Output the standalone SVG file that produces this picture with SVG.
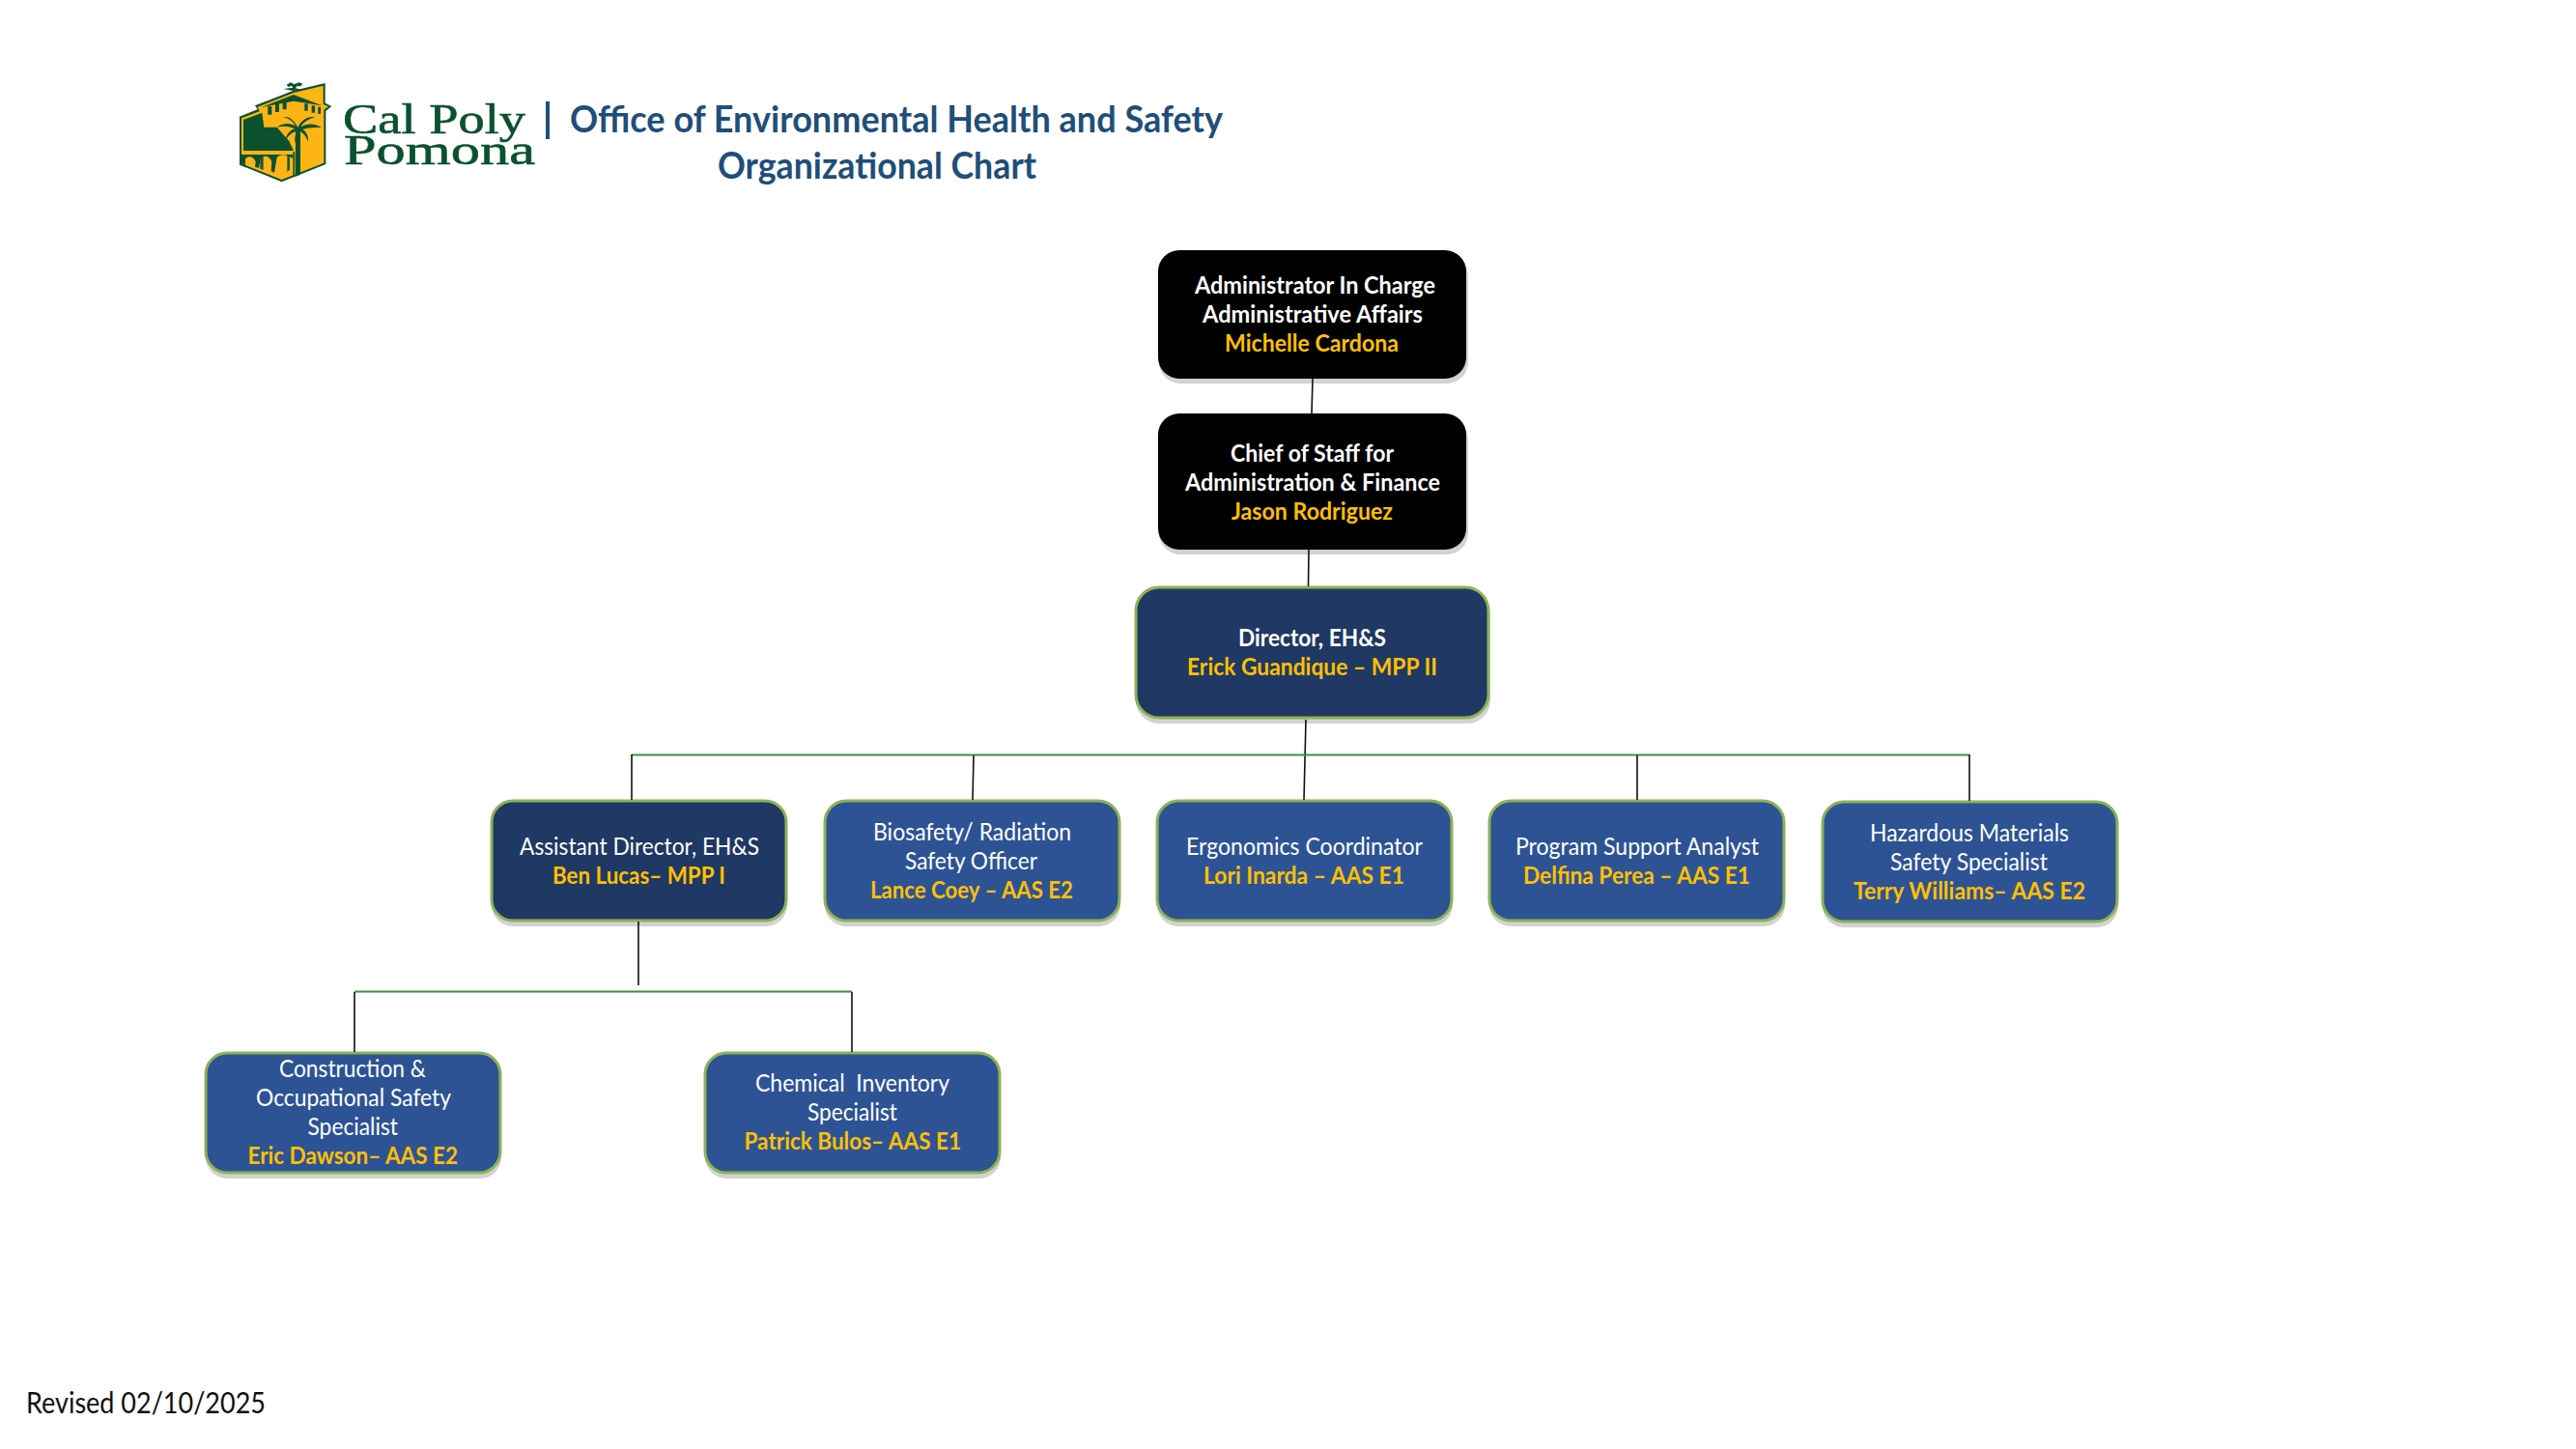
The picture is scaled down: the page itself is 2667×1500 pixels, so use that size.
<svg xmlns="http://www.w3.org/2000/svg" width="2667" height="1500" viewBox="0 0 2667 1500">
<style>
text{font-family:"Lato","Open Sans","Liberation Sans",sans-serif;font-size:25px}
.w{fill:#fff}.wb{fill:#fff;font-weight:700}.n{fill:#FFC000;font-weight:700}
.sh{fill:#d2d2d2}
.bk{fill:#000}.nv{fill:#1F3864;stroke:#8DB255;stroke-width:3}.bl{fill:#2E5395;stroke:#8DB255;stroke-width:3}
.k{stroke:#111;stroke-width:1.6;fill:none}.g{stroke:#3F8F46;stroke-width:2;fill:none}
.t{fill:#1F4E79;font-weight:700;font-size:38px}
.lg{font-family:"Liberation Serif",serif;font-size:44px;fill:#0B5130;stroke:#0B5130;stroke-width:.6}
.dg{fill:#0B5130}.yl{fill:#FDB515}
</style>
<rect width="2667" height="1500" fill="#fff"/>
<g id="logo">
<g transform="translate(240 80) scale(.3333)">
<path class="dg" d="M24 122L80 100L72 88L190 42L290 18V80L310 90L292 105V270L155 325L24 272Z"/>
<path class="yl" d="M30 127L86 106L80 92L192 48L284 26V84L300 91L286 101V266L155 318L30 268Z"/>
<path class="dg" d="M36 132L94 110L100 155L140 155L178 198L192 228H36Z"/>
<path class="dg" d="M92 93L192 54L280 88L192 74Z"/>
<path class="dg" d="M112 90h12v26h-12zM135 82h12v26h-12zM158 76h12v24h-12zM226 82h10v22h-10zM248 88h10v22h-10zM268 92h8v22h-8z"/>
<path class="dg" d="M30 240H190V252C170 238 150 236 140 250L132 296L122 292L124 262C118 244 100 240 90 252L84 282L72 278L74 262C68 244 48 242 42 254V274L30 268Z"/>
<path class="dg" d="M190 232H196V308L190 310ZM166 296L172 294V240H180V288L166 296ZM88 250L98 246V288L88 284Z" opacity=".9"/>
<path class="dg" d="M198 162H213V302L198 308Z"/>
<path class="dg" d="M205 156C190 125 170 120 160 124C178 128 192 138 198 152C182 140 158 142 140 155C162 150 182 152 195 160C178 166 168 180 168 195C176 180 188 170 202 168C196 180 194 196 198 205C200 190 206 176 210 168C222 172 232 184 236 200C240 184 232 170 220 162C238 156 258 156 278 156C260 142 232 142 214 154C222 140 238 130 258 124C238 120 216 132 205 156Z"/>
<path class="dg" d="M170 24L182 16L194 22L208 16L220 20L214 28L202 28L198 34L216 38L190 42L160 36L190 32L186 26L176 30Z"/>
</g>
<text class="lg" x="355" y="138" textLength="189" lengthAdjust="spacingAndGlyphs">Cal Poly</text>
<text class="lg" x="356" y="170" textLength="198" lengthAdjust="spacingAndGlyphs">Pomona</text>
<rect x="565" y="105" width="4" height="39" fill="#1F4E79"/>
</g>
<g id="title">
<text class="t" x="590" y="137" textLength="676" lengthAdjust="spacingAndGlyphs">Office of Environmental Health and Safety</text>
<text class="t" x="743" y="185" textLength="330" lengthAdjust="spacingAndGlyphs">Organizational Chart</text>
</g>
<g id="node-admin">
<rect class="sh" x="1200" y="264" width="320" height="133" rx="22"/><rect class="bk" x="1199" y="259" width="319" height="133" rx="22"/>
<text class="wb" x="1237" y="304" textLength="249" lengthAdjust="spacingAndGlyphs">Administrator In Charge</text>
<text class="wb" x="1245" y="334" textLength="228" lengthAdjust="spacingAndGlyphs">Administrative Affairs</text>
<text class="n" x="1268" y="364" textLength="180" lengthAdjust="spacingAndGlyphs">Michelle Cardona</text>
</g>
<g id="node-chief">
<rect class="sh" x="1200" y="433" width="320" height="141" rx="22"/><rect class="bk" x="1199" y="428" width="319" height="141" rx="22"/>
<text class="wb" x="1274" y="478" textLength="169" lengthAdjust="spacingAndGlyphs">Chief of Staff for</text>
<text class="wb" x="1227" y="508" textLength="264" lengthAdjust="spacingAndGlyphs">Administration &amp; Finance</text>
<text class="n" x="1275" y="538" textLength="167" lengthAdjust="spacingAndGlyphs">Jason Rodriguez</text>
</g>
<g id="node-director">
<rect class="sh" x="1176" y="612" width="367" height="137" rx="24"/><rect class="nv" x="1176" y="608" width="365" height="135" rx="24"/>
<text class="wb" x="1282" y="669" textLength="153" lengthAdjust="spacingAndGlyphs">Director, EH&amp;S</text>
<text class="n" x="1229" y="699" textLength="259" lengthAdjust="spacingAndGlyphs">Erick Guandique – MPP II</text>
</g>
<g id="node-assistant">
<rect class="sh" x="509" y="833" width="306" height="126" rx="22"/><rect class="nv" x="509" y="829" width="305" height="124" rx="22"/>
<text class="w" x="538" y="885" textLength="248" lengthAdjust="spacingAndGlyphs">Assistant Director, EH&amp;S</text>
<text class="n" x="572" y="915" textLength="179" lengthAdjust="spacingAndGlyphs">Ben Lucas– MPP I</text>
</g>
<g id="node-biosafety">
<rect class="sh" x="854" y="833" width="306" height="126" rx="22"/><rect class="bl" x="854" y="829" width="305" height="124" rx="22"/>
<text class="w" x="904" y="870" textLength="205" lengthAdjust="spacingAndGlyphs">Biosafety/ Radiation</text>
<text class="w" x="937" y="900" textLength="137" lengthAdjust="spacingAndGlyphs">Safety Officer</text>
<text class="n" x="901" y="930" textLength="210" lengthAdjust="spacingAndGlyphs">Lance Coey – AAS E2</text>
</g>
<g id="node-ergonomics">
<rect class="sh" x="1198" y="833" width="306" height="126" rx="22"/><rect class="bl" x="1198" y="829" width="305" height="124" rx="22"/>
<text class="w" x="1228" y="885" textLength="245" lengthAdjust="spacingAndGlyphs">Ergonomics Coordinator</text>
<text class="n" x="1246" y="915" textLength="208" lengthAdjust="spacingAndGlyphs">Lori Inarda – AAS E1</text>
</g>
<g id="node-program">
<rect class="sh" x="1542" y="833" width="306" height="126" rx="22"/><rect class="bl" x="1542" y="829" width="305" height="124" rx="22"/>
<text class="w" x="1569" y="885" textLength="252" lengthAdjust="spacingAndGlyphs">Program Support Analyst</text>
<text class="n" x="1577" y="915" textLength="235" lengthAdjust="spacingAndGlyphs">Delfina Perea – AAS E1</text>
</g>
<g id="node-hazardous">
<rect class="sh" x="1887" y="834" width="306" height="126" rx="22"/><rect class="bl" x="1887" y="830" width="305" height="124" rx="22"/>
<text class="w" x="1936" y="871" textLength="206" lengthAdjust="spacingAndGlyphs">Hazardous Materials</text>
<text class="w" x="1957" y="901" textLength="163" lengthAdjust="spacingAndGlyphs">Safety Specialist</text>
<text class="n" x="1919" y="931" textLength="240" lengthAdjust="spacingAndGlyphs">Terry Williams– AAS E2</text>
</g>
<g id="node-construction">
<rect class="sh" x="213" y="1094" width="306" height="126" rx="22"/><rect class="bl" x="213" y="1090" width="305" height="124" rx="22"/>
<text class="w" x="289" y="1115" textLength="152" lengthAdjust="spacingAndGlyphs">Construction &amp;</text>
<text class="w" x="265" y="1145" textLength="202" lengthAdjust="spacingAndGlyphs">Occupational Safety</text>
<text class="w" x="318.500" y="1175" textLength="93.500" lengthAdjust="spacingAndGlyphs">Specialist</text>
<text class="n" x="256.500" y="1205" textLength="217.500" lengthAdjust="spacingAndGlyphs">Eric Dawson– AAS E2</text>
</g>
<g id="node-chemical">
<rect class="sh" x="730" y="1094" width="306" height="126" rx="22"/><rect class="bl" x="730" y="1090" width="305" height="124" rx="22"/>
<text class="w" x="782" y="1130" textLength="201" lengthAdjust="spacingAndGlyphs" xml:space="preserve">Chemical  Inventory</text>
<text class="w" x="836" y="1160" textLength="93" lengthAdjust="spacingAndGlyphs">Specialist</text>
<text class="n" x="770.500" y="1190" textLength="224.500" lengthAdjust="spacingAndGlyphs">Patrick Bulos– AAS E1</text>
</g>
<g id="connectors">
<path class="k" d="M1359 392L1358 428M1355 569L1354.500 607M1352 745L1350 828"/>
<path class="g" d="M654 781.500H2039"/>
<path class="k" d="M654 781V828M1008 782L1007 828M1695 782V828M2039 781V829M661 954V1020"/>
<path class="g" d="M367 1026.500H882"/>
<path class="k" d="M367 1027V1089M882 1027V1089"/>
</g>
<text id="revised" x="27" y="1463" style="font-size:30px" fill="#111" textLength="248" lengthAdjust="spacingAndGlyphs">Revised 02/10/2025</text>
</svg>
